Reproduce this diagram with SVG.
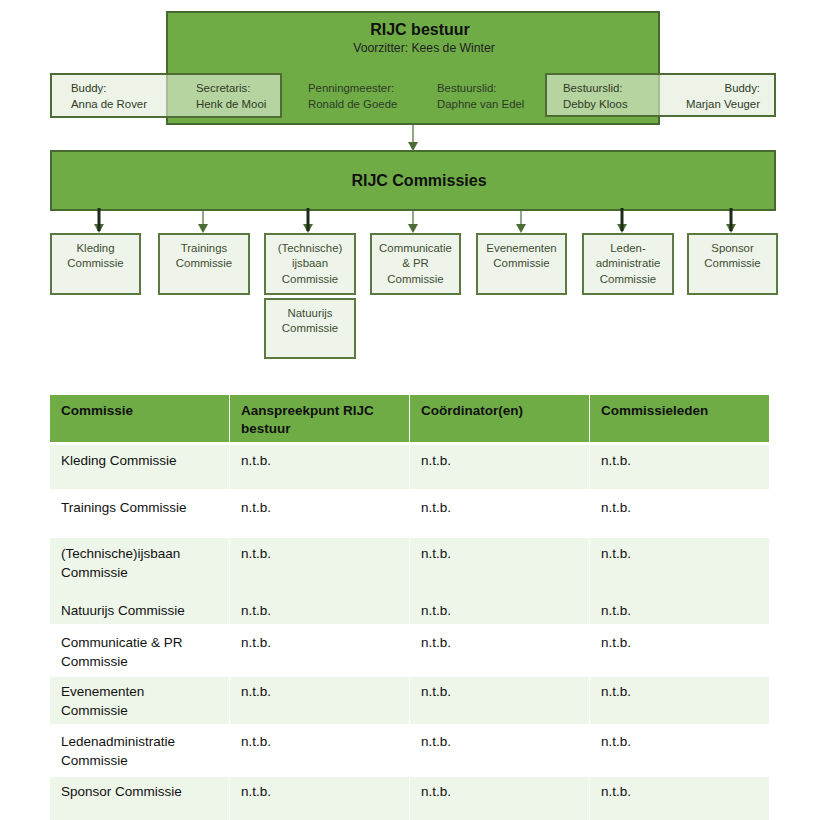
<svg xmlns="http://www.w3.org/2000/svg" width="817" height="820" viewBox="0 0 817 820">
<defs>
<style>
text{font-family:"Liberation Sans",Arial,sans-serif}
.big{fill:#6fac46;stroke:#466a2e;stroke-width:2}
.buddy{fill:#e2eed9;fill-opacity:0.62;stroke:#4d6d35;stroke-width:2}
.cbox{fill:#eef4e9;stroke:#5a7a41;stroke-width:2}
.title{font-size:16px;font-weight:bold;fill:#111;text-anchor:middle}
.sub{font-size:12.2px;fill:#222;text-anchor:middle}
.bt{font-size:11.4px;fill:#2e3a26}
.ct{font-size:11.4px;fill:#3d4d33;text-anchor:middle}
.thin{stroke:#4d6d35;stroke-width:1.2;fill:none}
.thick{stroke:#1f2b17;stroke-width:3;fill:none}
.head{fill:#4d6d35}
.th{fill:#6fac46}
.lr{fill:#eef5e9}
.tt{font-size:13.5px;fill:#111}
.tb{font-size:13.5px;font-weight:bold;fill:#111}
</style>
</defs>

<g id="bestuur">
<rect class="big" x="167" y="12" width="492" height="112"/>
<text class="title" x="420" y="35">RIJC bestuur</text>
<text class="sub" x="424" y="52">Voorzitter: Kees de Winter</text>
<text class="bt" x="308" y="92">Penningmeester:</text>
<text class="bt" x="308" y="108">Ronald de Goede</text>
<text class="bt" x="437" y="92">Bestuurslid:</text>
<text class="bt" x="437" y="108">Daphne van Edel</text>
</g>

<g id="buddy-left">
<rect class="buddy" x="51" y="74" width="230" height="43"/>
<text class="bt" x="71" y="92">Buddy:</text>
<text class="bt" x="71" y="108">Anna de Rover</text>
<text class="bt" x="196" y="92">Secretaris:</text>
<text class="bt" x="196" y="108">Henk de Mooi</text>
</g>

<g id="buddy-right">
<rect class="buddy" x="546" y="74" width="229" height="42"/>
<text class="bt" x="563" y="92">Bestuurslid:</text>
<text class="bt" x="563" y="108">Debby Kloos</text>
<text class="bt" x="760" y="92" text-anchor="end">Buddy:</text>
<text class="bt" x="760" y="108" text-anchor="end">Marjan Veuger</text>
</g>

<g id="commissies">
<rect class="big" x="51" y="151" width="724" height="59"/>
<text class="title" x="419" y="186">RIJC Commissies</text>
</g>

<g id="connectors">
<line class="thin" x1="413" y1="124" x2="413" y2="143"/>
<polygon class="head" points="408,142 418,142 413,151"/>
<line class="thin" x1="203" y1="211" x2="203" y2="225"/>
<polygon class="head" points="198,224 208,224 203,233"/>
<line class="thin" x1="413" y1="211" x2="413" y2="225"/>
<polygon class="head" points="408,224 418,224 413,233"/>
<line class="thin" x1="521" y1="211" x2="521" y2="225"/>
<polygon class="head" points="516,224 526,224 521,233"/>
<polygon class="head" points="94,224 104,224 99,233"/>
<line class="thick" x1="99" y1="208" x2="99" y2="231"/>
<polygon class="head" points="303,224 313,224 308,233"/>
<line class="thick" x1="308" y1="208" x2="308" y2="231"/>
<polygon class="head" points="617,224 627,224 622,233"/>
<line class="thick" x1="622" y1="208" x2="622" y2="231"/>
<polygon class="head" points="726,224 736,224 731,233"/>
<line class="thick" x1="731" y1="208" x2="731" y2="231"/>
</g>

<g id="kleding">
<rect class="cbox" x="51" y="234" width="89" height="60"/>
<text class="ct" x="95.5" y="252">Kleding</text>
<text class="ct" x="95.5" y="267">Commissie</text>
</g>
<g id="trainings">
<rect class="cbox" x="159" y="234" width="90" height="60"/>
<text class="ct" x="204" y="252">Trainings</text>
<text class="ct" x="204" y="267">Commissie</text>
</g>
<g id="technische">
<rect class="cbox" x="265" y="234" width="90" height="60"/>
<text class="ct" x="310" y="252">(Technische)</text>
<text class="ct" x="310" y="267">ijsbaan</text>
<text class="ct" x="310" y="283">Commissie</text>
</g>
<g id="natuurijs">
<rect class="cbox" x="265" y="299" width="90" height="59"/>
<text class="ct" x="310" y="317">Natuurijs</text>
<text class="ct" x="310" y="332">Commissie</text>
</g>
<g id="communicatie">
<rect class="cbox" x="371" y="234" width="89" height="60"/>
<text class="ct" x="415.5" y="252">Communicatie</text>
<text class="ct" x="415.5" y="267">&amp; PR</text>
<text class="ct" x="415.5" y="283">Commissie</text>
</g>
<g id="evenementen">
<rect class="cbox" x="477" y="234" width="89" height="60"/>
<text class="ct" x="521.5" y="252">Evenementen</text>
<text class="ct" x="521.5" y="267">Commissie</text>
</g>
<g id="leden">
<rect class="cbox" x="583" y="234" width="90" height="60"/>
<text class="ct" x="628" y="252">Leden-</text>
<text class="ct" x="628" y="267">administratie</text>
<text class="ct" x="628" y="283">Commissie</text>
</g>
<g id="sponsor">
<rect class="cbox" x="688" y="234" width="89" height="60"/>
<text class="ct" x="732.5" y="252">Sponsor</text>
<text class="ct" x="732.5" y="267">Commissie</text>
</g>

<g id="table">
<rect class="th" x="50" y="395" width="179" height="47"/>
<rect class="th" x="230" y="395" width="179" height="47"/>
<rect class="th" x="410" y="395" width="179" height="47"/>
<rect class="th" x="590" y="395" width="179" height="47"/>
<rect class="lr" x="50" y="445" width="179" height="44"/>
<rect class="lr" x="230" y="445" width="179" height="44"/>
<rect class="lr" x="410" y="445" width="179" height="44"/>
<rect class="lr" x="590" y="445" width="179" height="44"/>
<rect class="lr" x="50" y="538" width="179" height="86"/>
<rect class="lr" x="230" y="538" width="179" height="86"/>
<rect class="lr" x="410" y="538" width="179" height="86"/>
<rect class="lr" x="590" y="538" width="179" height="86"/>
<rect class="lr" x="50" y="677" width="179" height="47"/>
<rect class="lr" x="230" y="677" width="179" height="47"/>
<rect class="lr" x="410" y="677" width="179" height="47"/>
<rect class="lr" x="590" y="677" width="179" height="47"/>
<rect class="lr" x="50" y="777" width="179" height="43"/>
<rect class="lr" x="230" y="777" width="179" height="43"/>
<rect class="lr" x="410" y="777" width="179" height="43"/>
<rect class="lr" x="590" y="777" width="179" height="43"/>

<text class="tb" x="61" y="415">Commissie</text>
<text class="tb" x="241" y="415">Aanspreekpunt RIJC</text>
<text class="tb" x="241" y="433">bestuur</text>
<text class="tb" x="421" y="415">Coördinator(en)</text>
<text class="tb" x="601" y="415">Commissieleden</text>

<text class="tt" x="61" y="465">Kleding Commissie</text>
<text class="tt" x="241" y="465">n.t.b.</text>
<text class="tt" x="421" y="465">n.t.b.</text>
<text class="tt" x="601" y="465">n.t.b.</text>

<text class="tt" x="61" y="512">Trainings Commissie</text>
<text class="tt" x="241" y="512">n.t.b.</text>
<text class="tt" x="421" y="512">n.t.b.</text>
<text class="tt" x="601" y="512">n.t.b.</text>

<text class="tt" x="61" y="558">(Technische)ijsbaan</text>
<text class="tt" x="61" y="577">Commissie</text>
<text class="tt" x="241" y="558">n.t.b.</text>
<text class="tt" x="421" y="558">n.t.b.</text>
<text class="tt" x="601" y="558">n.t.b.</text>

<text class="tt" x="61" y="615">Natuurijs Commissie</text>
<text class="tt" x="241" y="615">n.t.b.</text>
<text class="tt" x="421" y="615">n.t.b.</text>
<text class="tt" x="601" y="615">n.t.b.</text>

<text class="tt" x="61" y="647">Communicatie &amp; PR</text>
<text class="tt" x="61" y="666">Commissie</text>
<text class="tt" x="241" y="647">n.t.b.</text>
<text class="tt" x="421" y="647">n.t.b.</text>
<text class="tt" x="601" y="647">n.t.b.</text>

<text class="tt" x="61" y="696">Evenementen</text>
<text class="tt" x="61" y="715">Commissie</text>
<text class="tt" x="241" y="696">n.t.b.</text>
<text class="tt" x="421" y="696">n.t.b.</text>
<text class="tt" x="601" y="696">n.t.b.</text>

<text class="tt" x="61" y="746">Ledenadministratie</text>
<text class="tt" x="61" y="765">Commissie</text>
<text class="tt" x="241" y="746">n.t.b.</text>
<text class="tt" x="421" y="746">n.t.b.</text>
<text class="tt" x="601" y="746">n.t.b.</text>

<text class="tt" x="61" y="796">Sponsor Commissie</text>
<text class="tt" x="241" y="796">n.t.b.</text>
<text class="tt" x="421" y="796">n.t.b.</text>
<text class="tt" x="601" y="796">n.t.b.</text>
</g>
</svg>
